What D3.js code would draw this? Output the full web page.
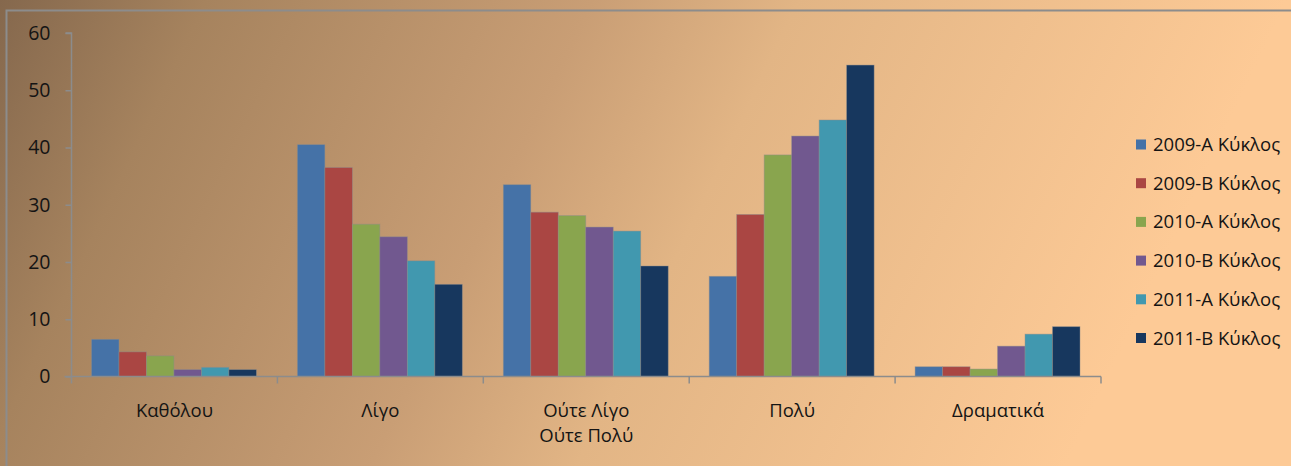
<!DOCTYPE html>
<html>
<head>
<meta charset="utf-8">
<script src="https://cdn.jsdelivr.net/npm/d3@7"></script>
<style>
  html, body { margin: 0; padding: 0; background: #fdca96; }
  svg { display: block; }
  text { font-family: "Open Sans", "Noto Sans", sans-serif; fill: #141414; }
</style>
</head>
<body>
<svg id="chart" width="1291" height="466"></svg>
<script>
const categories = ["Καθόλου", "Λίγο", "Ούτε Λίγο\nΟύτε Πολύ", "Πολύ", "Δραματικά"];
const seriesNames = ["2009-A Κύκλος", "2009-B Κύκλος", "2010-A Κύκλος", "2010-B Κύκλος", "2011-A Κύκλος", "2011-B Κύκλος"];
const seriesColors = ["#4572a7", "#aa4643", "#89a54e", "#71588f", "#4198af", "#17375e"];
const s2009A = [6.5, 40.5, 33.5, 17.5, 1.7];
const s2009B = [4.3, 36.5, 28.7, 28.3, 1.7];
const s2010A = [3.6, 26.6, 28.1, 38.7, 1.3];
const s2010B = [1.2, 24.4, 26.1, 42.0, 5.3];
const s2011A = [1.6, 20.2, 25.4, 44.8, 7.4];
const s2011B = [1.2, 16.1, 19.3, 54.4, 8.7];
const yTicks = [0, 10, 20, 30, 40, 50, 60];

const seriesValues = [s2009A, s2009B, s2010A, s2010B, s2011A, s2011B];

const W = 1291, H = 466;
const svg = d3.select("#chart");

// background gradient
const defs = svg.append("defs");
const grad = defs.append("linearGradient")
  .attr("id", "bg").attr("gradientUnits", "userSpaceOnUse")
  .attr("x1", 0).attr("y1", 0).attr("x2", 1050).attr("y2", 500);
grad.append("stop").attr("offset", 0).attr("stop-color", "#85684d");
grad.append("stop").attr("offset", 0.16).attr("stop-color", "#a6835e");
grad.append("stop").attr("offset", 0.46).attr("stop-color", "#c99e75");
grad.append("stop").attr("offset", 0.62).attr("stop-color", "#e2b585");
grad.append("stop").attr("offset", 1).attr("stop-color", "#fdca96");
svg.append("rect").attr("width", W).attr("height", H).attr("fill", "url(#bg)");

// chart frame
svg.append("path")
  .attr("d", `M6.5,${H + 5} L6.5,10.5 L${W + 5},10.5`)
  .attr("fill", "none").attr("stroke", "#8c8c8c").attr("stroke-width", 2);

const plot = { left: 71.5, right: 1101, top: 33, bottom: 376.5 };

const y = d3.scaleLinear().domain([0, 60]).range([plot.bottom, plot.top]);
const x0 = d3.scaleBand().domain(d3.range(categories.length))
  .range([plot.left, plot.right]).padding(0);
const bw = x0.bandwidth();
const x1 = d3.scaleBand().domain(d3.range(seriesNames.length))
  .range([20, bw - 21]).padding(0);

// bars
const g = svg.append("g");
seriesValues.forEach((vals, si) => {
  g.selectAll(null).data(vals).enter().append("rect")
    .attr("x", (d, ci) => x0(ci) + x1(si))
    .attr("y", d => y(d))
    .attr("width", x1.bandwidth())
    .attr("height", d => y(0) - y(d))
    .attr("fill", seriesColors[si])
    .attr("stroke", "rgba(140,140,140,0.55)")
    .attr("stroke-width", 0.8);
});

// y axis
const yAxis = d3.axisLeft(y).tickValues(yTicks).tickSize(6).tickPadding(15).tickFormat(d3.format("d"));
const ya = svg.append("g").attr("transform", `translate(${plot.left},0)`).call(yAxis);
ya.select(".domain").attr("stroke", "#8c8c8c").attr("stroke-width", 1.5)
  .attr("d", `M-6,${plot.top}H0V${plot.bottom}`);
ya.selectAll(".tick line").attr("stroke", "#8c8c8c").attr("stroke-width", 1.5);
ya.selectAll(".tick text").style("font-size", "19.5px").attr("fill", "#141414");

// x axis
const xa = svg.append("g").attr("transform", `translate(0,${plot.bottom})`);
xa.append("line").attr("x1", plot.left - 7).attr("x2", plot.right)
  .attr("stroke", "#8c8c8c").attr("stroke-width", 1.5);
const boundaries = d3.range(categories.length + 1).map(i => plot.left + i * bw);
xa.selectAll(null).data(boundaries).enter().append("line")
  .attr("x1", d => d).attr("x2", d => d).attr("y1", 0).attr("y2", 7)
  .attr("stroke", "#8c8c8c").attr("stroke-width", 1.5);
categories.forEach((c, i) => {
  const t = xa.append("text").attr("text-anchor", "middle")
    .attr("x", x0(i) + bw / 2).attr("y", 40.5).style("font-size", "18.5px");
  c.split("\n").forEach((line, li) => {
    t.append("tspan").attr("x", x0(i) + bw / 2).attr("dy", li === 0 ? 0 : 25).text(line);
  });
});

// legend
const lg = svg.append("g");
seriesNames.forEach((n, i) => {
  const cy = 144.5 + i * 38.7;
  lg.append("rect").attr("x", 1136).attr("y", cy - 5).attr("width", 10).attr("height", 10)
    .attr("fill", seriesColors[i]);
  lg.append("text").attr("x", 1153).attr("y", cy + 6.5).style("font-size", "18.5px").text(n);
});
</script>
</body>
</html>
